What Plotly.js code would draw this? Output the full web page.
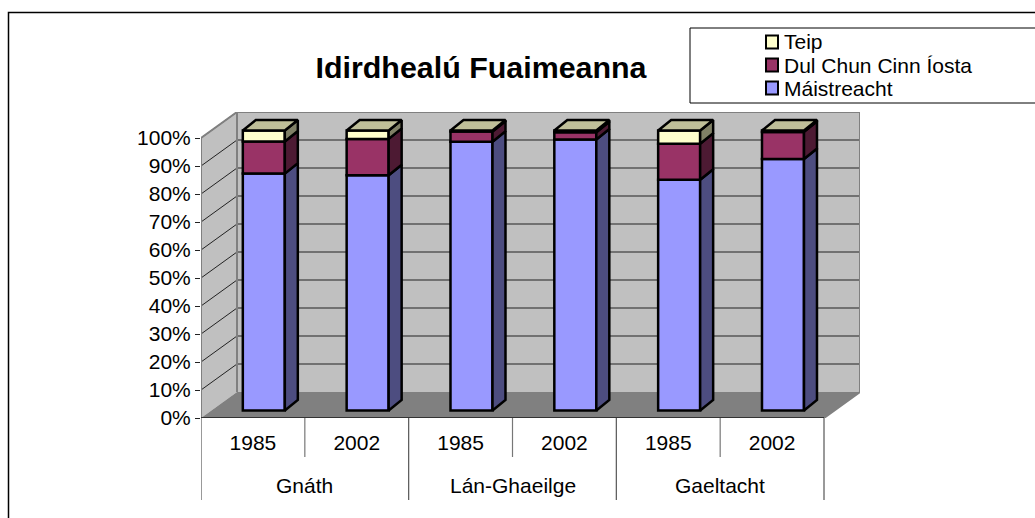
<!DOCTYPE html>
<html><head><meta charset="utf-8">
<script src="https://cdn.plot.ly/plotly-3.0.1.min.js"></script>
<style>html,body{margin:0;padding:0;background:#fff}</style></head>
<body><div id="chart" style="width:1035px;height:518px"></div>
<script>
const years = ['1985','2002','1985','2002','1985','2002'];
const groups = ['Gnáth','Lán-Ghaeilge','Gaeltacht'];
const seriesNames = ['Máistreacht','Dul Chun Cinn Íosta','Teip'];
const maistreacht = [84.6,84.0,96.0,96.8,82.4,89.8];
const dulChun = [11.5,13.0,3.6,2.6,12.9,9.7];
const teip = [3.9,3.0,0.4,0.6,4.7,0.5];
const yTicks = [0,10,20,30,40,50,60,70,80,90,100];
const colors = ['#9999FF','#993366','#FFFFCC'];
const sideColors = ['#4D4D80','#4D1A33','#808066'];
const topColor = '#BFBF99';

const W=1035,H=518, L=201, R=860, T=112, B=418;
const catPx=(824-201)/6, pctPx=2.8;
const dX=(R-L-6*catPx)/catPx, dY=(B-T)/pctPx-100;
const xMax=6+dX, yMax=100+dY;
const barW=42/catPx, fy=7.5/pctPx, sx=13/catPx, sy=10.5/pctPx;
const centers=years.map((_,i)=>i+0.605);

function poly(list){const xs=[],ys=[];list.forEach(p=>{p.forEach(q=>{xs.push(q[0]);ys.push(q[1]);});xs.push(p[0][0]);ys.push(p[0][1]);xs.push(null);ys.push(null);});return {x:xs,y:ys};}
function fillTrace(p,color,lc,lw){return {type:'scatter',mode:lw?'lines':'none',x:p.x,y:p.y,fill:'toself',fillcolor:color,line:{color:lc||color,width:lw||0},showlegend:false,hoverinfo:'skip'};}
function path(pts,close){return 'M'+pts.map(p=>p[0]+','+p[1]).join(' L')+(close?' Z':'');}
function dataShape(pts,close,fill,lc,lw){return {type:'path',xref:'x',yref:'y',layer:'below',path:path(pts,close),fillcolor:fill||'rgba(0,0,0,0)',line:{color:lc||'rgba(0,0,0,0)',width:lw||0}};}

const shapes=[];
shapes.push(dataShape([[0,0],[dX,dY],[xMax,dY],[xMax,yMax],[dX,yMax],[0,100]],true,'#C0C0C0'));
yTicks.slice(1).forEach(v=>shapes.push(dataShape([[0,v],[dX,v+dY],[xMax,v+dY]],false,null,'#222222',1)));
shapes.push(dataShape([[0,0],[dX,dY],[xMax,dY],[6,0]],true,'#808080'));
shapes.push(dataShape([[0,0],[0,100],[dX,yMax],[xMax,yMax],[xMax,dY],[6,0]],false,null,'#808080',2));
shapes.push(dataShape([[dX,yMax],[dX,dY]],false,null,'#808080',2));
shapes.push(dataShape([[0,0],[6,0]],false,null,'#333333',2));

const traces=[];
let base=years.map(()=>fy);
const all=[maistreacht,dulChun,teip];
all.forEach((vals,s)=>{
  traces.push({type:'bar',name:seriesNames[s],x:centers,y:vals,base:base.slice(),width:barW,
    marker:{color:colors[s],line:{color:'#000',width:2.5}},hoverinfo:'skip',showlegend:false});
  const sides=vals.map((v,i)=>{const xr=centers[i]+barW/2,b=base[i],t=b+v;
    return [[xr,b],[xr+sx,b+sy],[xr+sx,t+sy],[xr,t]];});
  traces.push(fillTrace(poly(sides),sideColors[s],'#000',2.5));
  base=base.map((b,i)=>b+vals[i]);
});
const tops=centers.map((c,i)=>{const a=c-barW/2,e=c+barW/2,t=base[i];
  return [[a,t],[e,t],[e+sx,t+sy],[a+sx,t+sy]];});
traces.push(fillTrace(poly(tops),topColor,'#000',2.5));

const FONT='"Liberation Sans", Arial, sans-serif';
const px=x=>(x-L)/(R-L), py=y=>(B-y)/(B-T);
[0,1,2,3,4,5,6].forEach(i=>{const major=i%2===0;
  shapes.push({type:'line',xref:'x',yref:'paper',x0:i,x1:i,y0:0,y1:py(major?500:457),line:{color:major?'#555':'#777',width:1.2}});});
shapes.push({type:'rect',xref:'paper',yref:'paper',x0:px(690),x1:px(1040),y0:py(103),y1:py(28),line:{color:'#000',width:1},fillcolor:'#fff',layer:'below'});
shapes.push({type:'rect',xref:'paper',yref:'paper',x0:px(8.5),x1:px(1045),y0:py(530),y1:py(12.5),line:{color:'#000',width:1.5},fillcolor:'rgba(0,0,0,0)',layer:'below'});

const annotations=groups.map((g,i)=>({text:g,xref:'x',yref:'paper',x:2*i+1,y:py(485),xanchor:'center',yanchor:'middle',showarrow:false,font:{family:FONT,size:21,color:'#000'}}));
const legendY=[88,65,42];
seriesNames.forEach((n,s)=>{
  annotations.push({text:n,xref:'paper',yref:'paper',x:px(785),y:py(legendY[s]),xanchor:'left',yanchor:'middle',showarrow:false,xshift:-3,font:{family:FONT,size:21,color:'#000'}});
  shapes.push({type:'rect',xref:'paper',yref:'paper',x0:px(766),x1:px(778),y0:py(legendY[s]+6.5),y1:py(legendY[s]-6.5),fillcolor:colors[s],line:{color:'#000',width:2}});
});

Plotly.newPlot('chart',traces,{
  width:W,height:H,margin:{l:L,r:W-R,t:T,b:H-B},
  paper_bgcolor:'#fff',plot_bgcolor:'rgba(0,0,0,0)',
  barmode:'overlay',bargap:0,showlegend:false,
  font:{family:FONT,color:'#000',size:21},
  title:{text:'<b>Idirdhealú Fuaimeanna</b>',font:{family:FONT,size:30.4,color:'#000'},x:481/W,xanchor:'center',y:1-67/H,yanchor:'middle'},
  xaxis:{range:[0,xMax],tickmode:'array',tickvals:years.map((_,i)=>i+0.5),ticktext:years,ticks:'',showgrid:false,zeroline:false,showline:false,tickfont:{family:FONT,size:21},fixedrange:true,ticklabelstandoff:10},
  yaxis:{range:[0,yMax],tickmode:'array',tickvals:yTicks,ticktext:yTicks.map(v=>v+'%'),ticks:'outside',ticklen:5,tickcolor:'#222',tickwidth:1,showgrid:false,zeroline:false,showline:false,tickfont:{family:FONT,size:21},fixedrange:true},
  shapes:shapes,annotations:annotations
},{displayModeBar:false,staticPlot:true});
</script></body></html>
